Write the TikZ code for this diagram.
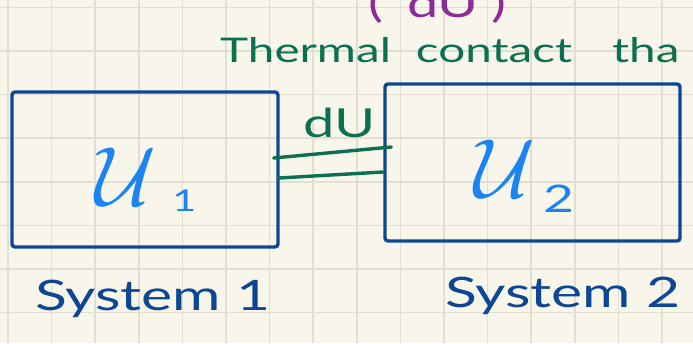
\RequirePackage{fix-cm}
\documentclass[tikz,border=0pt]{standalone}
\usepackage{fontspec}
\newfontfamily\hand[FakeStretch=1.4]{Lato}
\definecolor{bgcol}{HTML}{F8F6EA}
\definecolor{gridcol}{HTML}{E2DFD1}
\definecolor{navy}{HTML}{0D4793}
\definecolor{sky}{HTML}{1B84F2}
\definecolor{inkgreen}{HTML}{0C7050}
\definecolor{inkpurple}{HTML}{8C2B98}
\tikzset{
  gridline/.style={draw=gridcol, line width=1.6pt},
  sysbox/.style={draw=navy, line width=3.4pt, rounded corners=3pt, rectangle, inner sep=0pt},
  handtext/.style={inner sep=0pt, font=\hand\fontsize{#1}{#1}\selectfont},
  bluetext/.style={handtext=42, text=navy},
  energy/.style={inner sep=0pt, text=sky, font=\fontsize{84}{90}\selectfont},
  contactline/.style={draw=inkgreen, line width=3.4pt, line cap=round},
}
\begin{document}
\begin{tikzpicture}[x=1pt,y=-1pt]
\useasboundingbox (0,0) rectangle (693,343);
\clip (0,0) rectangle (693,343);
\fill[bgcol] (0,0) rectangle (693,343);
\foreach \i in {0,...,15} \draw[gridline] ({8+43.6*\i},0) -- ({8+43.6*\i},343);
\foreach \j in {0,...,7} \draw[gridline] (0,{7.3+43.6*\j}) -- (693,{7.3+43.6*\j});

% top texts
\node[handtext=40, text=inkpurple, anchor=base west] (top) at (368,17) {(\hspace{24pt}dU\hspace{12pt})};
\node[handtext=34, text=inkgreen, anchor=base west] (thermal) at (220,62) {Thermal\hspace{25pt}contact\hspace{40pt}tha};

% systems
\node[sysbox, minimum width=266pt, minimum height=155pt] (b1) at (145,169.5) {};
\node[sysbox, minimum width=295pt, minimum height=157pt] (b2) at (532.5,162.5) {};

\node[energy, anchor=base west] (u1) at (95,205) {$\mathcal{U}$\hspace{16pt}\raisebox{-6pt}{\hand\fontsize{30}{30}\selectfont 1}};
\node[energy, anchor=base west] (u2) at (474,197) {$\mathcal{U}$\hspace{8pt}\raisebox{-15pt}{\hand\fontsize{38}{38}\selectfont 2}};

% thermal contact
\draw[contactline] ([xshift=-6pt,yshift=11.5pt]b1.east) -- ([xshift=8pt,yshift=15.5pt]b2.west);
\draw[contactline] ([xshift=-1pt,yshift=-8.5pt]b1.east) -- ([yshift=-9.5pt]b2.west);
\node[handtext=40, text=inkgreen, anchor=base west] (du) at (303,137) {dU};

% labels
\node[bluetext, anchor=base west] (s1) at (35,310) {System 1};
\node[bluetext, anchor=base west] (s2) at (445,307) {System 2};
\end{tikzpicture}
\end{document}
